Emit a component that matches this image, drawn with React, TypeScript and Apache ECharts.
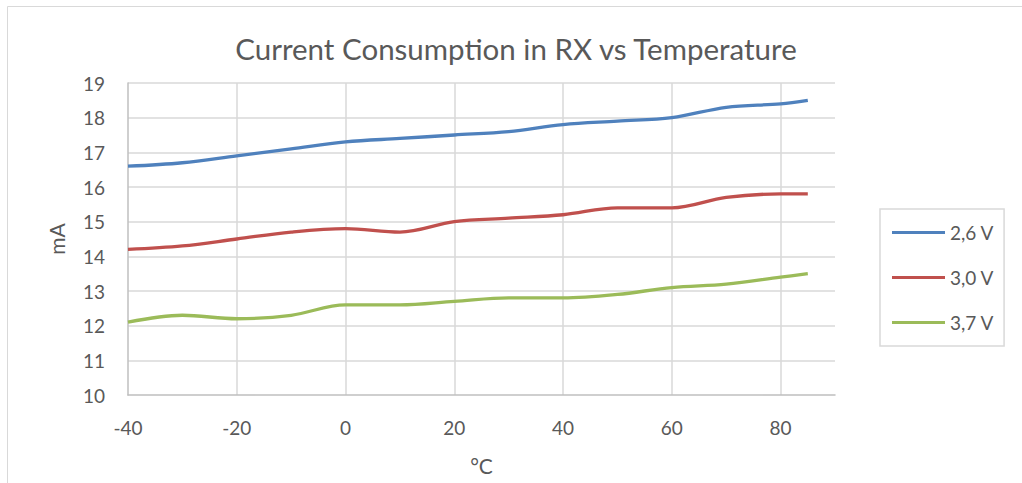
import React, { useEffect, useRef } from "react";
import * as echarts from "echarts";

const temperatures = [-40, -30, -20, -10, 0, 10, 20, 30, 40, 50, 60, 70, 80, 85];
const series26 = [16.6, 16.7, 16.9, 17.1, 17.3, 17.4, 17.5, 17.6, 17.8, 17.9, 18.0, 18.3, 18.4, 18.5];
const series30 = [14.2, 14.3, 14.5, 14.7, 14.8, 14.7, 15.0, 15.1, 15.2, 15.4, 15.4, 15.7, 15.8, 15.8];
const series37 = [12.1, 12.3, 12.2, 12.3, 12.6, 12.6, 12.7, 12.8, 12.8, 12.9, 13.1, 13.2, 13.4, 13.5];
const seriesNames = ["2,6 V", "3,0 V", "3,7 V"];
const seriesColors = ["#4f81bd", "#c0504d", "#9bbb59"];

const FONT = "Lato, 'Open Sans', sans-serif";
const TEXT = "#595959";

export default function App() {
  const ref = useRef<HTMLDivElement>(null);
  useEffect(() => {
    if (!ref.current) return;
    const chart = echarts.init(ref.current, undefined, { renderer: "svg" });
    const all = [series26, series30, series37];
    chart.setOption({
      animation: false,
      backgroundColor: "#ffffff",
      title: {
        text: "Current Consumption in RX vs Temperature",
        left: 511,
        top: 28,
        textAlign: "center",
        textStyle: { fontFamily: FONT, fontSize: 29.5, fontWeight: "normal", color: TEXT },
      },
      graphic: [
        {
          type: "rect",
          shape: { x: 7.5, y: 6.5, width: 1100, height: 600 },
          style: { fill: "none", stroke: "#d9d9d9", lineWidth: 1 },
          silent: true,
        },
      ],
      grid: { left: 128, top: 83, right: 187, bottom: 88 },
      legend: {
        orient: "vertical",
        left: 880,
        top: 209,
        padding: [14, 10, 14, 12],
        borderColor: "#d9d9d9",
        borderWidth: 1.5,
        itemGap: 26,
        itemWidth: 53,
        itemHeight: 3,
        icon: "rect",
        textStyle: { fontFamily: FONT, fontSize: 19, color: TEXT },
        data: seriesNames,
      },
      xAxis: {
        type: "value",
        min: -40,
        max: 90,
        interval: 20,
        name: "°C",
        nameLocation: "middle",
        nameGap: 60,
        nameTextStyle: { fontFamily: FONT, fontSize: 21, color: TEXT },
        axisLine: { onZero: false, lineStyle: { color: "#bfbfbf", width: 1.5 } },
        axisTick: { show: false },
        axisLabel: { fontFamily: FONT, fontSize: 19, color: TEXT, margin: 23, showMaxLabel: false },
        splitLine: { show: true, showMinLine: false, showMaxLine: false, lineStyle: { color: "#d9d9d9", width: 1.5 } },
      },
      yAxis: {
        type: "value",
        min: 10,
        max: 19,
        interval: 1,
        name: "mA",
        nameLocation: "middle",
        nameGap: 61,
        nameTextStyle: { fontFamily: FONT, fontSize: 21, color: TEXT },
        axisLine: { show: true, onZero: false, lineStyle: { color: "#bfbfbf", width: 1.5 } },
        axisTick: { show: false },
        axisLabel: { fontFamily: FONT, fontSize: 19, color: TEXT, margin: 23 },
        splitLine: { show: true, showMinLine: false, lineStyle: { color: "#d9d9d9", width: 1.5 } },
      },
      series: all.map((vals, i) => ({
        name: seriesNames[i],
        type: "line",
        data: temperatures.map((t, j) => [t, vals[j]]),
        smooth: 0.35,
        showSymbol: false,
        symbol: "none",
        lineStyle: { color: seriesColors[i], width: 3.3 },
        itemStyle: { color: seriesColors[i] },
      })),
    });
    return () => chart.dispose();
  }, []);
  return (
    <div
      ref={ref}
      style={{ position: "absolute", left: 0, top: 0, width: 1022, height: 483 }}
    />
  );
}
